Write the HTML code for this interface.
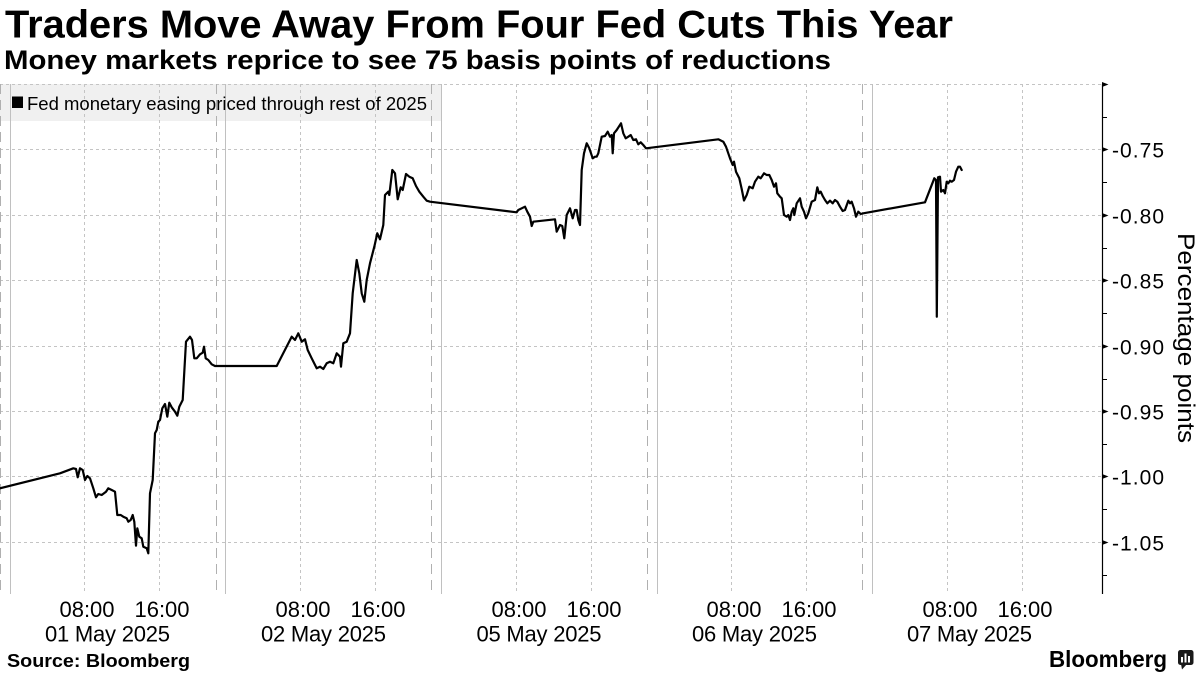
<!DOCTYPE html>
<html>
<head>
<meta charset="utf-8">
<style>
  html, body { margin: 0; padding: 0; background: #ffffff; }
  body { width: 1200px; height: 675px; overflow: hidden; }
  svg { display: block; }
  text { font-family: "Liberation Sans", "DejaVu Sans", sans-serif; fill: #000; }
</style>
</head>
<body>
<svg width="1200" height="675" viewBox="0 0 1200 675" xmlns="http://www.w3.org/2000/svg">
  <rect x="0" y="0" width="1200" height="675" fill="#ffffff"/>

  <!-- Title & subtitle -->
  <text x="5" y="37.5" font-size="39" font-weight="bold" textLength="948" lengthAdjust="spacingAndGlyphs">Traders Move Away From Four Fed Cuts This Year</text>
  <text x="4" y="69" font-size="26.5" font-weight="bold" textLength="827" lengthAdjust="spacingAndGlyphs">Money markets reprice to see 75 basis points of reductions</text>

  <!-- Legend background -->
  <rect x="0" y="84" width="442" height="37" fill="#f0f0f0"/>

  <!-- Horizontal gridlines -->
  <g stroke="#c4c4c4" stroke-width="1" stroke-dasharray="3,3" fill="none">
    <line x1="0" y1="84.5" x2="1102" y2="84.5"/>
    <line x1="0" y1="149.5" x2="1102" y2="149.5"/>
    <line x1="0" y1="215.5" x2="1102" y2="215.5"/>
    <line x1="0" y1="280.5" x2="1102" y2="280.5"/>
    <line x1="0" y1="346.5" x2="1102" y2="346.5"/>
    <line x1="0" y1="411.5" x2="1102" y2="411.5"/>
    <line x1="0" y1="476.5" x2="1102" y2="476.5"/>
    <line x1="0" y1="542.5" x2="1102" y2="542.5"/>
  </g>

  <!-- Vertical dotted gridlines (08:00, 16:00) -->
  <g stroke="#c4c4c4" stroke-width="1" stroke-dasharray="3,3" fill="none">
    <line x1="84.5" y1="84" x2="84.5" y2="594"/>
    <line x1="159.5" y1="84" x2="159.5" y2="594"/>
    <line x1="300.5" y1="84" x2="300.5" y2="594"/>
    <line x1="375.5" y1="84" x2="375.5" y2="594"/>
    <line x1="516.5" y1="84" x2="516.5" y2="594"/>
    <line x1="591.5" y1="84" x2="591.5" y2="594"/>
    <line x1="731.5" y1="84" x2="731.5" y2="594"/>
    <line x1="806.5" y1="84" x2="806.5" y2="594"/>
    <line x1="947.5" y1="84" x2="947.5" y2="594"/>
    <line x1="1022.5" y1="84" x2="1022.5" y2="594"/>
  </g>

  <!-- Day boundary dashed lines -->
  <g stroke="#b0b0b0" stroke-width="1" stroke-dasharray="10,6" fill="none">
    <line x1="0.5" y1="84" x2="0.5" y2="594"/>
    <line x1="216.5" y1="84" x2="216.5" y2="594"/>
    <line x1="431.5" y1="84" x2="431.5" y2="594"/>
    <line x1="647.5" y1="84" x2="647.5" y2="594"/>
    <line x1="862.5" y1="84" x2="862.5" y2="594"/>
  </g>

  <!-- Day start solid lines -->
  <g stroke="#c0c0c0" stroke-width="1" fill="none">
    <line x1="10.5" y1="84" x2="10.5" y2="594"/>
    <line x1="225.5" y1="84" x2="225.5" y2="594"/>
    <line x1="441.5" y1="84" x2="441.5" y2="594"/>
    <line x1="657.5" y1="84" x2="657.5" y2="594"/>
    <line x1="872.5" y1="84" x2="872.5" y2="594"/>
  </g>

  <!-- Legend -->
  <rect x="12" y="96.5" width="11" height="11.5" fill="#000"/>
  <text x="27" y="110" font-size="18.5" textLength="400" lengthAdjust="spacingAndGlyphs">Fed monetary easing priced through rest of 2025</text>

  <!-- Data line -->
  <polyline fill="none" stroke="#000" stroke-width="2.2" stroke-linejoin="round" stroke-linecap="round"
    points="0,488.3 60,473.3 73.3,468.3 76,469 77.7,477.3 80,468.3 82.7,470 85,480 87.3,476 90,478.3 93.3,488.3 96,497.3 98.3,494 101.7,495 106,491.7 108.3,488.3 111.7,490 115,491.7 117.3,515 120.7,515 123.3,516.7 126.7,518.3 128.3,521.7 130.7,520 132.7,515 134.3,521.7 136,545.7 137.3,528.3 139.3,536.7 141.7,538.3 143.3,546.7 146.7,548.3 148.3,553.3 150,493.3 152.7,480 155,433.3 156.7,430 158.3,421.7 160,420 162.3,408.3 165,404 167.3,416.7 169.3,402.7 171.7,407.3 175,411.7 177.3,415.7 179.3,406.7 182.7,400 186,341.7 190,336.7 192,340 194.3,358.3 196.7,358.3 200,354.3 202.7,352.7 204,346.7 205.7,358.3 208.3,360 211.7,364.3 215,366
    276.7,366 291.7,336.7 295,340 298.3,333.3 301.7,341.7 305,339.3 307.7,350 311.7,358.3 316.7,368.3 320,366.7 323.3,369 326.7,363.3 330,361.7 333.3,363.3 336.7,353.3 340,356.7 341,366.7 343.3,343.3 346.7,341.7 350,333.3 352.7,293.3 356.7,260 359.3,273.3 361.7,293.3 364.3,301.7 366.7,280 370,263.3 374.3,246.7 377.3,233.3 380,239.3 383.3,225 385,195 388.3,191.7 389.3,195 392.3,170 395,173.3 397.7,199.3 400.7,187.3 402.7,190 406,174 409.3,176.7 412.7,178.3 416,186 419.3,191.7 423.3,196.7 426.7,200.7 430,201.7
    516.7,212.3 518.3,210 525,206.7 527.3,211.7 530,216.7 531.7,226 533.3,221.7 555,219.3 556.7,231.7 560,225 562.3,226 564.3,238.3 566.7,215 570,208.3 572.7,218.3 575,210 576.7,210 578.3,220 580,225 581.7,170 584,153.3 586.7,143.3 589.3,148.3 592.7,158.3 595,156.7 596.7,156.7 598.3,153.3 601.7,136.7 605,136 607.7,131.7 610,136.7 611.7,135 612.7,153.3 614,133.3 616.7,130 621,123.3 623.3,133.3 625.7,138.3 628.3,136.7 630.7,135 633.3,140 636,139.3 638.3,144.3 640.7,142.3 643.3,145 646,148.3
    718.3,139.3 723.3,141.7 726,146.7 730,158.3 732.7,165 734,161.7 736,171.7 739.3,178.3 741.7,189 744,200.5 746.7,195 749.3,186.7 752.7,188.3 755,181.7 758.3,176.7 760.7,178.3 764,173.3 766.7,175 769.3,175 771.7,180 774,186.7 776,183.3 777.3,193.3 780,196.7 781.7,198.3 784,215 786.7,216.7 788.3,215 790,220 791.7,211.7 793.3,208.3 794.3,215 796.7,203.3 800,198.3 801.7,206.7 804,211.7 806,218.3 808.3,213.3 811.7,201.7 815,200 817.3,187.3 819,193.3 820.7,191.7 822.7,196 825,200 827.3,203.3 830,200.7 832.7,203.3 835,200 837.3,201.7 840,206.7 842.7,211 845,210 848.3,200.7 850,203.3 851.7,201.7 854,208.3 856,216.7 858.3,211.7 860.7,214 863.3,213.3
    925,202.3 934.3,178.3 936,180 936.8,316.7 938,177.3 940,176.7 941,191.7 943.3,190 945,193.3 946.7,181.7 948.3,183.3 950,180.7 951.7,181.7 954,180 956,171.7 958.3,166.7 960,166.7 961.7,170"/>

  <!-- Right axis -->
  <line x1="1102.5" y1="84" x2="1102.5" y2="594" stroke="#000" stroke-width="1.2"/>
  <g fill="#000">
    <polygon points="1102,82 1108.5,84.5 1102,87"/>
    <polygon points="1102,147 1108.5,149.5 1102,152"/>
    <polygon points="1102,213 1108.5,215.5 1102,218"/>
    <polygon points="1102,278 1108.5,280.5 1102,283"/>
    <polygon points="1102,344 1108.5,346.5 1102,349"/>
    <polygon points="1102,409 1108.5,411.5 1102,414"/>
    <polygon points="1102,474 1108.5,476.5 1102,479"/>
    <polygon points="1102,540 1108.5,542.5 1102,545"/>
  </g>
  <g stroke="#000" stroke-width="1">
    <line x1="1102" y1="117.5" x2="1107" y2="117.5"/>
    <line x1="1102" y1="182.5" x2="1107" y2="182.5"/>
    <line x1="1102" y1="248.5" x2="1107" y2="248.5"/>
    <line x1="1102" y1="313.5" x2="1107" y2="313.5"/>
    <line x1="1102" y1="379.5" x2="1107" y2="379.5"/>
    <line x1="1102" y1="444.5" x2="1107" y2="444.5"/>
    <line x1="1102" y1="509.5" x2="1107" y2="509.5"/>
    <line x1="1102" y1="575.5" x2="1107" y2="575.5"/>
  </g>
  <g font-size="21">
    <text x="1112" y="157.3" textLength="52">-0.75</text>
    <text x="1112" y="223.3" textLength="52">-0.80</text>
    <text x="1112" y="288.3" textLength="52">-0.85</text>
    <text x="1112" y="354.3" textLength="52">-0.90</text>
    <text x="1112" y="419.3" textLength="52">-0.95</text>
    <text x="1112" y="484.3" textLength="52">-1.00</text>
    <text x="1112" y="550.3" textLength="52">-1.05</text>
  </g>
  <text transform="translate(1178,338) rotate(90)" text-anchor="middle" font-size="24" textLength="210" lengthAdjust="spacingAndGlyphs">Percentage points</text>

  <!-- X axis labels -->
  <g font-size="22" text-anchor="middle">
    <text x="87" y="617">08:00</text>
    <text x="162" y="617">16:00</text>
    <text x="303" y="617">08:00</text>
    <text x="378" y="617">16:00</text>
    <text x="519" y="617">08:00</text>
    <text x="594" y="617">16:00</text>
    <text x="734" y="617">08:00</text>
    <text x="809" y="617">16:00</text>
    <text x="950" y="617">08:00</text>
    <text x="1025" y="617">16:00</text>
  </g>
  <g font-size="22" text-anchor="middle">
    <text x="107.5" y="641.5" textLength="125">01 May 2025</text>
    <text x="323.5" y="641.5" textLength="125">02 May 2025</text>
    <text x="539" y="641.5" textLength="125">05 May 2025</text>
    <text x="754.5" y="641.5" textLength="125">06 May 2025</text>
    <text x="969.5" y="641.5" textLength="125">07 May 2025</text>
  </g>

  <!-- Footer -->
  <text x="7" y="667" font-size="18.5" font-weight="bold" textLength="183" lengthAdjust="spacingAndGlyphs">Source: Bloomberg</text>
  <text x="1049" y="667" font-size="23" font-weight="bold" textLength="118" lengthAdjust="spacingAndGlyphs">Bloomberg</text>
  <g>
    <rect x="1178" y="650" width="15.5" height="15" rx="2.5" fill="#1a1a1a"/>
    <polygon points="1181,664 1187,664 1182,669.5" fill="#1a1a1a"/>
    <rect x="1181" y="657" width="2" height="5.5" fill="#fff"/>
    <rect x="1184.5" y="653.5" width="2" height="9" fill="#fff"/>
    <rect x="1188" y="656" width="2" height="6.5" fill="#fff"/>
  </g>
</svg>
</body>
</html>
